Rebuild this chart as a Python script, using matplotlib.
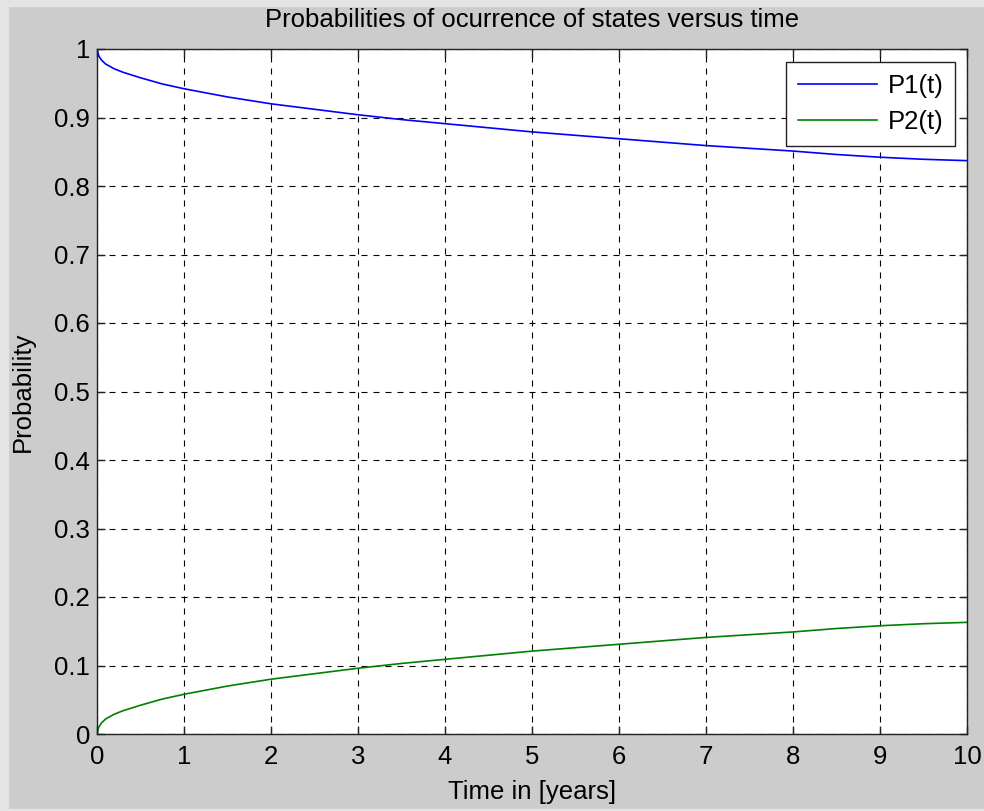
import numpy as np
import matplotlib
matplotlib.use('Agg')
import matplotlib.pyplot as plt
from matplotlib.patches import Rectangle

# values
t = [0, 0.02, 0.05, 0.1, 0.2, 0.3, 0.5, 0.75, 1, 1.5, 2, 2.5, 3, 3.5, 4,
     4.5, 5, 5.5, 6, 6.5, 7, 7.5, 8, 8.5, 9, 9.5, 10]
p1 = [1.0, 0.990, 0.984, 0.978, 0.971, 0.966, 0.958, 0.949, 0.942, 0.930,
      0.920, 0.912, 0.904, 0.897, 0.891, 0.885, 0.879, 0.874, 0.869, 0.864,
      0.859, 0.855, 0.851, 0.846, 0.842, 0.839, 0.837]
p2 = [0.0, 0.010, 0.016, 0.022, 0.029, 0.034, 0.042, 0.051, 0.058, 0.070,
      0.080, 0.088, 0.096, 0.103, 0.109, 0.115, 0.121, 0.126, 0.131, 0.136,
      0.141, 0.145, 0.149, 0.154, 0.158, 0.161, 0.163]
xticks = list(range(0, 11))
yticks = [0, 0.1, 0.2, 0.3, 0.4, 0.5, 0.6, 0.7, 0.8, 0.9, 1]
ytick_labels = ['0', '0.1', '0.2', '0.3', '0.4', '0.5', '0.6', '0.7', '0.8', '0.9', '1']

plt.rcParams['font.family'] = ['Liberation Sans', 'DejaVu Sans']
plt.rcParams['font.size'] = 18.5

fig = plt.figure(figsize=(9.84, 8.11), dpi=100, facecolor='#cccccc')
# lighter window edge
fig.patches.append(Rectangle((0, 0), 8 / 984, 1, transform=fig.transFigure,
                             color='#e4e4e4', zorder=-1))
fig.patches.append(Rectangle((0, 1 - 6 / 811), 1, 6 / 811, transform=fig.transFigure,
                             color='#e4e4e4', zorder=-1))
fig.patches.append(Rectangle((0, 0), 1, 2 / 811, transform=fig.transFigure,
                             color='#e4e4e4', zorder=-1))

ax = fig.add_axes([97 / 984, 77 / 811, 870 / 984, 685 / 811])
ax.plot(t, p1, color='#0000ff', lw=1.2, label='P1(t)')
ax.plot(t, p2, color='#008000', lw=1.2, label='P2(t)')

ax.set_xlim(0, 10)
ax.set_ylim(0, 1)
ax.set_xticks(xticks)
ax.set_yticks(yticks)
ax.set_yticklabels(ytick_labels)
ax.tick_params(direction='in', length=6, width=1, top=True, right=True,
               colors='#222222', labelcolor='black')
ax.tick_params(axis='x', pad=8)
ax.tick_params(axis='y', pad=5)
for s in ax.spines.values():
    s.set_color('#222222')
    s.set_linewidth(1)
ax.grid(True, color='black', linestyle=(0, (5.4, 5.4)), linewidth=0.8)

ax.set_title('Probabilities of ocurrence of states versus time', fontsize=18.5, pad=16)
ax.set_xlabel('Time in [years]', labelpad=7.5)
ax.set_ylabel('Probability', labelpad=14)

leg = ax.legend(loc='upper right', bbox_to_anchor=(955 / 984, 1 - 62 / 811),
                bbox_transform=fig.transFigure, borderaxespad=0, fancybox=False,
                framealpha=1, edgecolor='#222222', handlelength=3.1,
                handletextpad=0.4, borderpad=0.45, labelspacing=0.5)
leg.get_frame().set_linewidth(1)

fig.savefig('out.png', dpi=100, facecolor=fig.get_facecolor())
